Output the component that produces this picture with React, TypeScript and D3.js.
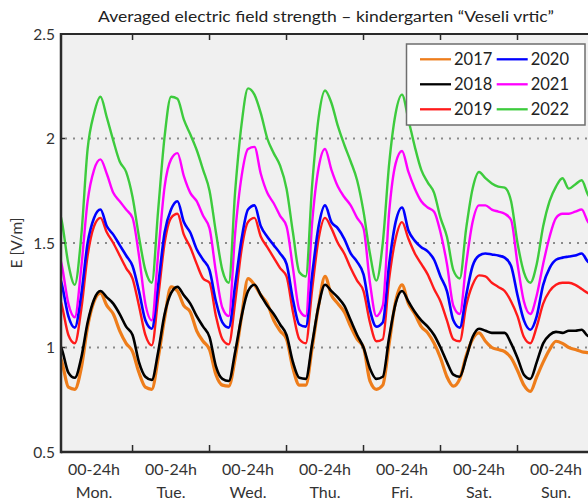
import React from 'react';
import * as d3 from 'd3';

// hours since Monday 00:00, every 2 hours (Mon 0h ... Sun 24h)
const HOURS = d3.range(0, 169, 2);

const Y2017 = [
  1.00, 0.93, 0.81, 0.80, 0.90, 1.10, 1.22, 1.26, 1.20, 1.16, 1.08, 1.02,
  0.98, 0.88, 0.81, 0.80, 0.95, 1.14, 1.29, 1.27, 1.20, 1.17, 1.08, 1.03,
  0.99, 0.87, 0.82, 0.815, 0.95, 1.15, 1.33, 1.30, 1.25, 1.21, 1.13, 1.08,
  1.04, 0.90, 0.82, 0.82, 1.00, 1.20, 1.34, 1.25, 1.21, 1.17, 1.10, 1.04,
  1.00, 0.84, 0.80, 0.82, 1.02, 1.22, 1.30, 1.21, 1.16, 1.10, 1.07, 1.02,
  0.95, 0.86, 0.815, 0.85, 0.96, 1.04, 1.07, 1.03, 1.00, 0.99, 0.98, 0.95,
  0.89, 0.82, 0.79, 0.86, 0.93, 0.99, 1.03, 1.02, 1.00, 0.99, 0.98, 0.975, 0.97,
];
const Y2018 = [
  1.05, 0.99, 0.88, 0.855, 0.95, 1.12, 1.23, 1.27, 1.24, 1.21, 1.16, 1.10,
  1.06, 0.93, 0.86, 0.845, 0.98, 1.16, 1.26, 1.29, 1.25, 1.21, 1.15, 1.10,
  1.05, 0.91, 0.85, 0.84, 0.98, 1.15, 1.27, 1.30, 1.25, 1.20, 1.16, 1.11,
  1.06, 0.93, 0.855, 0.85, 1.02, 1.20, 1.30, 1.27, 1.24, 1.20, 1.13, 1.06,
  1.00, 0.90, 0.85, 0.86, 1.05, 1.21, 1.27, 1.22, 1.17, 1.13, 1.10, 1.06,
  1.00, 0.93, 0.87, 0.86, 0.95, 1.05, 1.09, 1.08, 1.07, 1.07, 1.07, 1.02,
  0.95, 0.87, 0.85, 0.93, 1.02, 1.06, 1.075, 1.07, 1.08, 1.08, 1.085, 1.055, 1.05,
];
const Y2019 = [
  1.30, 1.20, 1.06, 1.02, 1.18, 1.44, 1.58, 1.62, 1.55, 1.50, 1.44, 1.38,
  1.33, 1.20, 1.06, 1.01, 1.24, 1.50, 1.62, 1.64, 1.54, 1.48, 1.40, 1.33,
  1.31, 1.15, 1.04, 1.015, 1.22, 1.47, 1.60, 1.62, 1.53, 1.48, 1.43, 1.38,
  1.34, 1.17, 1.04, 1.02, 1.28, 1.52, 1.62, 1.57, 1.50, 1.45, 1.38, 1.32,
  1.27, 1.12, 1.03, 1.04, 1.33, 1.52, 1.60, 1.52, 1.45, 1.40, 1.35, 1.28,
  1.22, 1.13, 1.04, 1.03, 1.20, 1.30, 1.345, 1.34, 1.31, 1.29, 1.27, 1.22,
  1.15, 1.05, 1.02, 1.10, 1.21, 1.27, 1.30, 1.31, 1.31, 1.30, 1.28, 1.26, 1.25,
];
const Y2020 = [
  1.40, 1.30, 1.15, 1.095, 1.25, 1.50, 1.62, 1.66, 1.58, 1.54, 1.49, 1.44,
  1.39, 1.27, 1.13, 1.09, 1.30, 1.55, 1.66, 1.70, 1.60, 1.55, 1.47, 1.42,
  1.37, 1.22, 1.12, 1.095, 1.30, 1.52, 1.66, 1.68, 1.58, 1.53, 1.49, 1.45,
  1.40, 1.23, 1.11, 1.10, 1.35, 1.58, 1.68, 1.60, 1.57, 1.52, 1.45, 1.41,
  1.35, 1.18, 1.10, 1.12, 1.40, 1.60, 1.67, 1.56, 1.51, 1.48, 1.46, 1.42,
  1.34, 1.27, 1.13, 1.095, 1.25, 1.39, 1.44, 1.45, 1.445, 1.44, 1.43, 1.39,
  1.25, 1.13, 1.085, 1.15, 1.30, 1.38, 1.42, 1.43, 1.435, 1.44, 1.45, 1.41, 1.40,
];
const Y2021 = [
  1.50, 1.39, 1.21, 1.145, 1.38, 1.70, 1.85, 1.90, 1.83, 1.74, 1.70, 1.66,
  1.62, 1.44, 1.21, 1.13, 1.45, 1.77, 1.90, 1.93, 1.82, 1.74, 1.70, 1.63,
  1.57, 1.36, 1.19, 1.15, 1.55, 1.82, 1.95, 1.96, 1.83, 1.74, 1.69, 1.63,
  1.58, 1.38, 1.18, 1.15, 1.60, 1.86, 1.95, 1.85, 1.77, 1.72, 1.68, 1.62,
  1.57, 1.31, 1.15, 1.20, 1.65, 1.88, 1.94, 1.84, 1.76, 1.70, 1.67, 1.65,
  1.55, 1.40, 1.20, 1.16, 1.40, 1.60, 1.68, 1.68, 1.66, 1.65, 1.64, 1.61,
  1.40, 1.22, 1.16, 1.25, 1.40, 1.53, 1.62, 1.64, 1.64, 1.65, 1.66, 1.60, 1.58,
];
const Y2022 = [
  1.72, 1.60, 1.40, 1.30, 1.53, 1.95, 2.12, 2.20, 2.10, 1.99, 1.89, 1.84,
  1.72, 1.53, 1.37, 1.31, 1.66, 2.01, 2.20, 2.19, 2.09, 2.02, 1.945, 1.85,
  1.75, 1.55, 1.37, 1.31, 1.75, 2.07, 2.24, 2.21, 2.12, 2.00, 1.93, 1.87,
  1.76, 1.55, 1.36, 1.34, 1.78, 2.10, 2.23, 2.17, 2.06, 1.97, 1.89, 1.80,
  1.65, 1.45, 1.32, 1.50, 1.88, 2.12, 2.21, 2.09, 1.96, 1.85, 1.79, 1.74,
  1.62, 1.53, 1.37, 1.33, 1.57, 1.76, 1.84, 1.81, 1.785, 1.77, 1.765, 1.70,
  1.50, 1.36, 1.31, 1.40, 1.58, 1.70, 1.77, 1.81, 1.76, 1.78, 1.80, 1.73, 1.70,
];

const SERIES_NAMES = ['2017', '2018', '2019', '2020', '2021', '2022'];
const SERIES_COLORS = ['#EE7D1B', '#000000', '#FF1A1A', '#0000FF', '#FF00FF', '#3DCB3D'];
const SERIES_WIDTHS = [3.2, 2.6, 2.4, 2.6, 2.4, 2.4];
const SERIES_VALUES = [Y2017, Y2018, Y2019, Y2020, Y2021, Y2022];

const DAY_LABELS = ['Mon.', 'Tue.', 'Wed.', 'Thu.', 'Fri.', 'Sat.', 'Sun.'];
const DAY_SUBLABEL = '00-24h';
const DAY_TICKS = [24, 48, 72, 96, 120, 144];
const Y_TICKS = [0.5, 1, 1.5, 2, 2.5];
const GRID_VALUES = [1, 1.5, 2];
const TITLE = 'Averaged electric field strength \u2013 kindergarten \u201CVeseli vrtic\u201D';
const Y_LABEL = 'E [V/m]';

const W = 588;
const H = 500;
const L = 61;
const R = 594.5;
const T = 34;
const B = 452;
const FONT = 'Lato, "Open Sans", sans-serif';

export default function App() {
  const x = d3.scaleLinear().domain([1.7, 168]).range([L, R]);
  const y = d3.scaleLinear().domain([0.5, 2.5]).range([B, T]);
  const line = d3
    .line<number>()
    .x((_, i) => x(HOURS[i]))
    .y((d) => y(d))
    .curve(d3.curveMonotoneX);

  const legendX = 406.5;
  const legendY = 44;
  const legendW = 178.5;
  const legendH = 81;
  const rowH = 25;

  return (
    <svg
      width={W}
      height={H}
      style={{ position: 'absolute', left: 0, top: 0, background: '#ffffff' }}
      fontFamily={FONT}
    >
      <defs>
        <clipPath id="plotclip">
          <rect x={L} y={T} width={R - L} height={B - T} />
        </clipPath>
      </defs>
      <rect x={0} y={0} width={W} height={H} fill="#ffffff" />
      <rect x={L} y={T} width={R - L} height={B - T} fill="#f0f0f0" />

      {GRID_VALUES.map((v) => (
        <line
          key={'g' + v}
          x1={L + 4}
          x2={R}
          y1={y(v)}
          y2={y(v)}
          stroke="#8a8a8a"
          strokeWidth={2}
          strokeDasharray="2 6"
        />
      ))}

      <g clipPath="url(#plotclip)">
        {SERIES_VALUES.map((vals, si) => (
          <path
            key={SERIES_NAMES[si]}
            d={line(vals) || ''}
            fill="none"
            stroke={SERIES_COLORS[si]}
            strokeWidth={SERIES_WIDTHS[si]}
            strokeLinejoin="round"
          />
        ))}
      </g>

      {/* frame */}
      <line x1={L} x2={R} y1={T} y2={T} stroke="#2a2a2a" strokeWidth={2} />
      <line x1={L} x2={R} y1={B} y2={B} stroke="#2a2a2a" strokeWidth={2.5} />
      <line x1={L} x2={L} y1={T - 1} y2={B + 1.2} stroke="#2a2a2a" strokeWidth={2.5} />

      {DAY_TICKS.map((h) => (
        <g key={'t' + h}>
          <line x1={x(h)} x2={x(h)} y1={B} y2={B - 7} stroke="#2a2a2a" strokeWidth={1.5} />
          <line x1={x(h)} x2={x(h)} y1={T} y2={T + 6} stroke="#2a2a2a" strokeWidth={1.5} />
        </g>
      ))}
      {GRID_VALUES.map((v) => (
        <line key={'yt' + v} x1={L} x2={L + 4} y1={y(v)} y2={y(v)} stroke="#2a2a2a" strokeWidth={1.5} />
      ))}

      {Y_TICKS.map((v) => (
        <text
          key={'yl' + v}
          x={55}
          y={y(v)}
          dy="0.36em"
          textAnchor="end"
          fontSize={15.5}
          fill="#333"
        >
          {String(v)}
        </text>
      ))}

      {DAY_LABELS.map((lab, i) => {
        const cx = x(i * 24 + 12);
        return (
          <g key={lab}>
            <text x={cx} y={475} textAnchor="middle" fontSize={16} fill="#333">
              {DAY_SUBLABEL}
            </text>
            <text x={cx} y={498} textAnchor="middle" fontSize={16} fill="#333">
              {lab}
            </text>
          </g>
        );
      })}

      <text
        transform={`translate(22, ${(T + B) / 2}) rotate(-90)`}
        textAnchor="middle"
        fontSize={15.5}
        fill="#333"
      >
        {Y_LABEL}
      </text>

      <text x={326} y={22} textAnchor="middle" fontSize={15.5} fill="#222" textLength={456} lengthAdjust="spacingAndGlyphs">
        {TITLE}
      </text>

      {/* legend */}
      <rect x={legendX} y={legendY} width={legendW} height={legendH} fill="#ffffff" stroke="#6e6e6e" strokeWidth={1.5} />
      {SERIES_NAMES.map((name, si) => {
        const col = Math.floor(si / 3);
        const row = si % 3;
        const cy = legendY + 15.3 + row * rowH;
        const lx = col === 0 ? 420 : 496.7;
        return (
          <g key={'lg' + name}>
            <line x1={lx} x2={lx + 31} y1={cy} y2={cy} stroke={SERIES_COLORS[si]} strokeWidth={2.3} />
            <text x={lx + 34} y={cy} dy="0.36em" fontSize={16.5} fill="#222">
              {name}
            </text>
          </g>
        );
      })}
    </svg>
  );
}
